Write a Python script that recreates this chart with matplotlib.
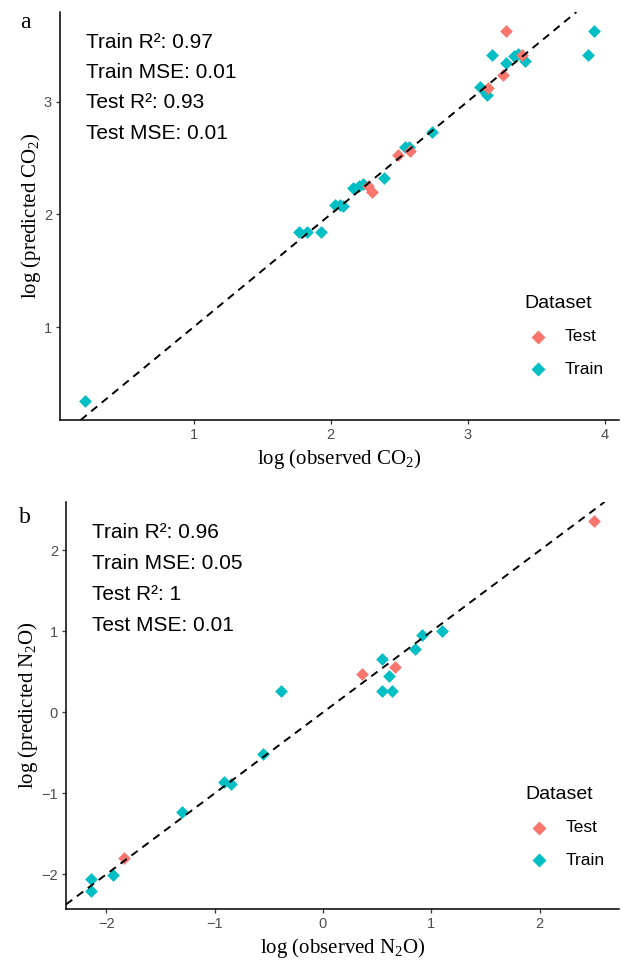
import matplotlib
matplotlib.use('Agg')
import matplotlib.pyplot as plt

plt.rcParams['mathtext.fontset'] = 'custom'
plt.rcParams['mathtext.rm'] = 'Liberation Serif'
plt.rcParams['mathtext.it'] = 'Liberation Serif:italic'

# ---------------- Panel a: CO2 ----------------
co2_train_obs = [0.21, 1.77, 1.83, 1.93, 2.03, 2.07, 2.09, 2.16, 2.21, 2.24, 2.39,
                 2.54, 2.57, 2.74, 3.09, 3.12, 3.14, 3.18, 3.28, 3.34, 3.37, 3.42,
                 3.88, 3.92]
co2_train_pred = [0.34, 1.84, 1.84, 1.84, 2.08, 2.08, 2.07, 2.23, 2.25, 2.27, 2.32,
                  2.60, 2.60, 2.73, 3.13, 3.09, 3.06, 3.41, 3.34, 3.40, 3.42, 3.36,
                  3.41, 3.63]
co2_test_obs = [2.27, 2.30, 2.49, 2.58, 3.15, 3.26, 3.28, 3.40]
co2_test_pred = [2.25, 2.20, 2.53, 2.56, 3.12, 3.24, 3.63, 3.41]
co2_stats = ["Train R²: 0.97", "Train MSE: 0.01", "Test R²: 0.93", "Test MSE: 0.01"]
co2_xticks = [1, 2, 3, 4]
co2_yticks = [1, 2, 3]

# ---------------- Panel b: N2O ----------------
n2o_train_obs = [-2.14, -2.14, -1.94, -1.30, -0.91, -0.85, -0.55, -0.39, 0.54, 0.54,
                 0.61, 0.64, 0.85, 0.91, 1.10]
n2o_train_pred = [-2.06, -2.20, -2.01, -1.23, -0.86, -0.89, -0.51, 0.27, 0.66, 0.27,
                  0.45, 0.27, 0.78, 0.96, 1.01]
n2o_test_obs = [-1.84, 0.36, 0.66, 2.50]
n2o_test_pred = [-1.80, 0.47, 0.56, 2.37]
n2o_stats = ["Train R²: 0.96", "Train MSE: 0.05", "Test R²: 1", "Test MSE: 0.01"]
n2o_xticks = [-2, -1, 0, 1, 2]
n2o_yticks = [-2, -1, 0, 1, 2]

COL_TEST = '#F8766D'
COL_TRAIN = '#00BFC4'
SANS = 'Liberation Sans'
SERIF = 'Liberation Serif'

W, H = 622, 964
fig = plt.figure(figsize=(W / 100, H / 100), dpi=100)


def px_axes(l, t, r, b):
    return fig.add_axes([l / W, 1 - b / H, (r - l) / W, (b - t) / H])


def expand(vals):
    lo, hi = min(vals), max(vals)
    d = (hi - lo) * 0.05
    return lo - d, hi + d


def panel(ax, tr_x, tr_y, te_x, te_y, stats, xticks, yticks, xlabel, ylabel,
          letter, letter_y, stat_x, stat_y0, stat_dy, leg_y):
    ax.scatter(tr_x, tr_y, marker='D', s=42, color=COL_TRAIN, linewidths=0,
               zorder=2, label='Train')
    ax.scatter(te_x, te_y, marker='D', s=42, color=COL_TEST, linewidths=0,
               zorder=2.1, label='Test')
    ax.axline((0, 0), slope=1, color='black', lw=1.4, linestyle=(0, (4, 3)),
              zorder=3)
    ax.set_xlim(*expand(tr_x + te_x))
    ax.set_ylim(*expand(tr_y + te_y))
    ax.set_xticks(xticks)
    ax.set_yticks(yticks)
    ax.set_xticklabels([str(v).replace('-', '\u2212') for v in xticks])
    ax.set_yticklabels([str(v).replace('-', '\u2212') for v in yticks])
    for s in ['top', 'right']:
        ax.spines[s].set_visible(False)
    for s in ['left', 'bottom']:
        ax.spines[s].set_linewidth(1.1)
        ax.spines[s].set_color('black')
    ax.tick_params(axis='both', direction='out', length=3.2, width=0.9,
                   color='#333333', labelcolor='#4D4D4D', labelsize=10.5, pad=2.5)
    for lab in ax.get_xticklabels() + ax.get_yticklabels():
        lab.set_fontfamily(SANS)
    ax.set_xlabel(xlabel, family=SERIF, fontsize=15, labelpad=4)
    ax.set_ylabel(ylabel, family=SERIF, fontsize=15, labelpad=1)
    for i, txt in enumerate(stats):
        ax.text(stat_x, stat_y0 - i * stat_dy, txt, transform=ax.transAxes,
                family=SANS, fontsize=15, ha='left', va='center', color='black')
    handles, labels = ax.get_legend_handles_labels()
    order = [labels.index('Test'), labels.index('Train')]
    ax.legend([handles[i] for i in order], [labels[i] for i in order],
              title='Dataset', loc='upper left', bbox_to_anchor=(0.815, leg_y),
              frameon=False, prop={'family': SANS, 'size': 12.5},
              title_fontproperties={'family': SANS, 'size': 14},
              alignment='left', borderpad=0, handlelength=1.6,
              handletextpad=0.7, labelspacing=1.0, markerscale=1.1)
    fig.text(25 / W, 1 - letter_y / H, letter, family=SERIF, fontsize=17,
             ha='center', va='baseline')
    return ax


ax1 = px_axes(60, 12, 619, 420)
panel(ax1, co2_train_obs, co2_train_pred, co2_test_obs, co2_test_pred, co2_stats,
      co2_xticks, co2_yticks, r'log (observed CO$_2$)', r'log (predicted CO$_2$)',
      'a', 28, 0.046, 0.925, 0.074, 0.328)

ax2 = px_axes(66, 502, 619, 909)
panel(ax2, n2o_train_obs, n2o_train_pred, n2o_test_obs, n2o_test_pred, n2o_stats,
      n2o_xticks, n2o_yticks, r'log (observed N$_2$O)', r'log (predicted N$_2$O)',
      'b', 523, 0.047, 0.925, 0.076, 0.324)

fig.savefig('out.png', dpi=100)
